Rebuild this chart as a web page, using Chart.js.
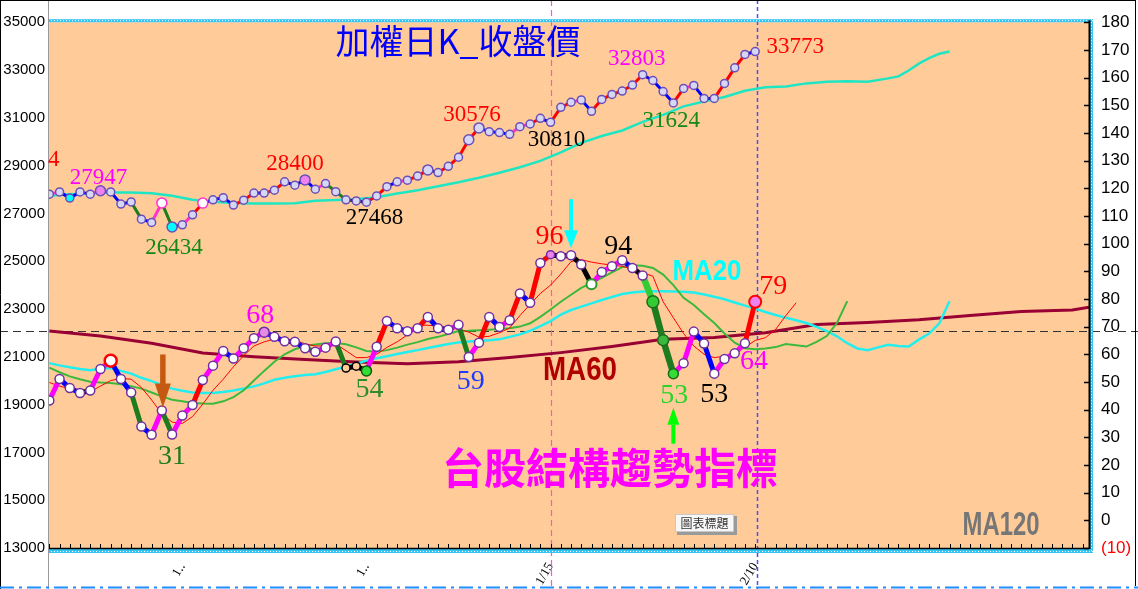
<!DOCTYPE html>
<html>
<head>
<meta charset="utf-8">
<script src="https://cdn.jsdelivr.net/npm/chart.js@4.4.1/dist/chart.umd.min.js"></script>
<style>
  html, body { margin: 0; padding: 0; background: #fff; }
  #wrap { width: 1138px; height: 589px; }
</style>
</head>
<body>
<div id="wrap"><canvas id="mycanvas" width="1138" height="589"></canvas></div>
<script>
// ---- data ----
var tickIdx  = [13, 31, 49, 69];
var tickText = ['1‥', '1‥', '1/15', '2/10'];

// weighted index, daily close (left axis)
var price = [27805, 27900, 27640, 27900, 27805, 27947, 27900, 27390, 27480, 26760,
             26620, 27440, 26434, 26520, 26940, 27430, 27570, 27660, 27350, 27555,
             27850, 27850, 27970, 28320, 28180, 28400, 28010, 28250, 27910, 27570,
             27520, 27468, 27730, 28120, 28320, 28390, 28560, 28820, 28710, 28970,
             29350, 30080, 30576, 30420, 30380, 30310, 30630, 30740, 30980, 30810,
             31440, 31650, 31750, 31270, 31770, 31980, 32120, 32370, 32803, 32560,
             32100, 31624, 32230, 32355, 31810, 31810, 32440, 33090, 33650, 33773];
// trend code per segment (R up, B down, M, G, K, L)
var priceTrend = 'MBBBMBBBGBMGBMRBBBRRBRRBBBMGGKKRRBMRRBRRRRBBBMMRBRRMBRRRRRBBBRMBBRRRB';

// price moving average (left axis), read at these positions
var priceMAIdx = [0, 2, 4, 6, 8, 10, 12, 14, 16, 18, 20, 22, 24, 26, 28, 30, 32, 34, 36, 38,
                  40, 42, 44, 46, 48, 50, 52, 54, 56, 58, 60, 62, 64, 66, 68, 70, 72, 74, 76, 78,
                  80, 82, 83, 84, 85, 86, 87, 88];
var priceMA = [27735, 27805, 27840, 27872, 27872, 27847, 27735, 27567, 27484, 27430,
               27413, 27413, 27420, 27526, 27560, 27590, 27680, 27830, 27970, 28140,
               28300, 28490, 28700, 28930, 29200, 29550, 29950, 30240, 30470, 30830,
               31120, 31480, 31680, 31870, 32130, 32280, 32310, 32440, 32510, 32534,
               32510, 32650, 32734, 32980, 33265, 33494, 33680, 33775];

// structure trend indicator (right axis)
var trendIdx = [43.3, 51.1, 47.8, 46.0, 46.9, 54.7, 57.7, 51.1, 46.2, 33.9,
                30.9, 39.7, 31, 37.9, 41.7, 50.7, 55.9, 61.2, 58.5, 62.2,
                65.8, 68, 66.3, 64.7, 64.5, 62.2, 60.9, 62.4, 64.6, 55.0,
                55.7, 54, 62.7, 72.0, 69.4, 68.3, 69.4, 73.5, 69.4, 68.9,
                70.7, 59, 64.2, 73.5, 69.9, 72.3, 82.0, 78.6, 93.0, 96,
                95.4, 95.8, 92.4, 85.3, 89.7, 91.8, 94, 91.2, 88.5, 79.0,
                65.1, 53, 56.8, 68.2, 63.9, 53, 58.3, 60.4, 64, 79];
var trendCode = 'MBBKMMBBGBMGMMRMMBMMMBBBBGMMGKKMRBBMRBBMGMRBMRBRRKKKKMMMBKLGGMMBBMMMR';

var ma5 = [49.8, 48.5, 47.5, 46.8, 46.5, 48.5, 50.5, 51.3, 51, 48,
           43.5, 38.5, 35.5, 35, 37.5, 42, 47, 51, 55.5, 59.5,
           63, 64.5, 65.5, 65.7, 65, 63.8, 63, 63, 63.7, 61.3,
           58.8, 58.8, 60, 62.5, 64.5, 67, 70.5, 70.5, 70.2, 69.6,
           69.1, 68, 66.2, 66.5, 67.8, 69.5, 74, 78, 82, 85,
           89, 93.5, 94.2, 93.3, 92.7, 92.2, 91.8, 90.8, 89.5, 88.2,
           79, 73.2, 67.5, 63, 60, 58.8, 59.3, 60.5, 62.5, 65,
           66, 69, 74, 78.6];
var ma10 = [55.2, 53.5, 52, 51, 50.1, 49.8, 49.6, 49.2, 48.5, 47.6,
            46.2, 44.8, 43.6, 43, 42.4, 42.2, 42.1, 43, 44.5, 47,
            50.5, 54, 57.3, 60, 61.8, 63, 63.5, 64, 64.1, 63.6,
            62.5, 61.2, 60.9, 61.5, 62.4, 63.5, 64.4, 65.5, 66.3, 67.3,
            68.4, 68.5, 68.7, 68.9, 69.1, 69.4, 70, 71.2, 73.5, 76.2,
            79, 81.5, 84, 85.8, 87.6, 89.6, 91.5, 92.2, 92, 91.2,
            88.8, 85, 80.4, 77.8, 74.5, 71.3, 67.5, 64.2, 62.2, 61.8,
            62.1, 62.6, 63.7, 63.3, 62.8, 64.5, 66.6, 71.4, 79.2];
var ma20 = [56.8, 56, 55.3, 54.7, 54.2, 54.8, 55, 54, 53, 51.5,
            50.3, 48.9, 47.6, 46.8, 46.2, 46, 46, 46.4, 46.9, 47.6,
            48.4, 49.5, 50.8, 51.5, 52.1, 52.5, 52.8, 53.6, 54.6, 55.6,
            56.6, 57.7, 58.6, 59.3, 60.1, 60.8, 61.5, 62.3, 63, 63.7,
            64.3, 64.6, 64.9, 65.1, 65.4, 66.3, 67.2, 68.5, 70.2, 72,
            74.3, 76, 77.2, 78.4, 79.6, 80.7, 81.8, 82.3, 82.7, 82.8,
            82.8, 82.7, 82.6, 82.3, 81.6, 80.8, 79.9, 78.7, 77.6, 76.5,
            75.3, 74.2, 73.2, 72.3, 71.3, 69.9, 68.4, 66.5, 64, 62.1,
            61.5, 62.5, 63.4, 63, 62.8, 65.3, 67.5, 71.2, 79.2];
var ma60Idx = [0, 5, 10, 15, 20, 25, 30, 35, 40, 45, 50, 55, 60, 65, 70, 75, 80, 85, 90, 95, 100, 102];
var ma60 = [68.4, 66.6, 64.0, 60.5, 59.1, 58.1, 57.2, 56.6, 57.3, 58.8, 60.6, 62.8, 65.4, 66.1, 67.8,
            70.8, 71.5, 72.5, 74.0, 75.5, 76.0, 77.2];
var refLevel = 68.5;

// ---- helpers ----
function seq(vals) { return vals.map(function(v, i) { return { x: i, y: v }; }); }
function pairs(xs, vals) { return xs.map(function(x, k) { return { x: x, y: vals[k] }; }); }

var trendColor = { R: '#FF0000', B: '#0000FF', M: '#FF00FF', G: '#1E7B1E', K: '#000000', L: '#33CC33' };
var priceColor = { R: '#FF0000', B: '#0000FF', M: '#FF33CC', G: '#1E7B1E', K: '#202020', L: '#33CC33' };

var priceMark = {
  2: { bg: '#00FFFF' }, 5: { bg: '#EE82EE', r: 5 }, 11: { bg: '#fff', bc: '#FF33CC', r: 5 },
  12: { bg: '#00FFFF', r: 5 }, 15: { bg: '#fff', bc: '#FF33CC', r: 5 }, 25: { bg: '#EE82EE', r: 5 },
  37: { r: 5 }, 41: { r: 5 }, 42: { r: 5 }
};
var trendMark = {
  6: { r: 6, bg: '#fff', bc: '#FF0000', bw: 2.5 }, 21: { r: 5, bg: '#E58AE5' },
  29: { r: 4, bg: '#FFCC99', bc: '#000' }, 30: { r: 4, bg: '#FFCC99', bc: '#000' },
  31: { r: 5, bg: '#33DD33', bc: '#0B5E0B' }, 49: { r: 4, bg: '#EE82EE' },
  53: { r: 5, bg: '#fff', bc: '#2E9B2E', bw: 2 }, 59: { r: 6, bg: '#33CC33', bc: '#1E6B1E' },
  60: { r: 5.5, bg: '#3CB83C', bc: '#1E6B1E' }, 61: { r: 5, bg: '#33DD33', bc: '#1E6B1E' },
  69: { r: 6, bg: '#EE82EE', bc: '#FF0000', bw: 2 }
};
function mk(map, i, key, def) { var m = map[i]; return (m && m[key] !== undefined) ? m[key] : def; }

// text notes attached to points: [index, color, dx, dy, text override]
var priceNotes = [[0, '#FF0000', 4.5, -36, '4'], [5, '#FF00FF', -2, -14], [12, '#178717', 2, 19],
                  [25, '#FF0000', -10, -18], [31, '#000', 8, 14], [42, '#FF0000', -7, -15],
                  [49, '#000', 6, 16], [58, '#FF00FF', -6, -17], [61, '#178717', -2, 17],
                  [69, '#FF0000', 40, -6]];
var trendNotes = [[12, '#1E7B1E', 0, 20], [21, '#FF00FF', -4, -18], [31, '#2E8B2E', 3, 17],
                  [41, '#1D3BFF', 2, 23], [49, '#FF0000', -1, -20], [56, '#000', -4, -15],
                  [61, '#2BD42B', 1, 20], [65, '#000', 0, 19], [68, '#FF00FF', 9, 17],
                  [69, '#FF0000', 18, -17]];

function line(c, x0, y0, x1, y1) { c.beginPath(); c.moveTo(x0, y0); c.lineTo(x1, y1); c.stroke(); }
function arrow(c, x, yBase, yTip, shaftW, headW, headH, color) {
  var dir = yTip > yBase ? 1 : -1;
  c.fillStyle = color;
  c.fillRect(x - shaftW / 2, Math.min(yBase, yTip - dir * headH), shaftW, Math.abs(yTip - dir * headH - yBase) + 1);
  c.beginPath();
  c.moveTo(x - headW / 2, yTip - dir * headH);
  c.lineTo(x + headW / 2, yTip - dir * headH);
  c.lineTo(x, yTip);
  c.closePath();
  c.fill();
}

var deco = {
  id: 'deco',
  beforeDraw: function(chart) {
    var c = chart.ctx, a = chart.chartArea;
    c.save();
    c.fillStyle = '#fff';
    c.fillRect(0, 0, chart.width, chart.height);
    c.fillStyle = '#FFCC99';
    c.fillRect(a.left, a.top, a.right - a.left, a.bottom - a.top);
    c.restore();
  },
  beforeDatasetsDraw: function(chart) {
    var c = chart.ctx, sx = chart.scales.x, yR = chart.scales.yR;
    c.save();
    var yy = Math.round(yR.getPixelForValue(refLevel)) + 0.5;
    c.strokeStyle = '#333'; c.lineWidth = 1; c.setLineDash([8, 5]);
    line(c, 0, yy, chart.width, yy);
    var px = Math.round(sx.getPixelForValue(49)) + 0.5;
    c.strokeStyle = '#FF55CC'; c.lineWidth = 1.2; c.setLineDash([6, 4]);
    line(c, px, 0, px, chart.height);
    px = Math.round(sx.getPixelForValue(69.2)) + 0.5;
    c.strokeStyle = '#4B4BFF'; c.lineWidth = 1.5; c.setLineDash([4, 3]);
    line(c, px, 0, px, chart.height);
    c.restore();
  },
  afterDatasetsDraw: function(chart) {
    var c = chart.ctx, a = chart.chartArea, sx = chart.scales.x, yL = chart.scales.yL, yR = chart.scales.yR;
    var W = chart.width, H = chart.height, i, p;
    c.save();
    c.setLineDash([]);
    // plot frame
    c.fillStyle = '#35C4F2';
    c.fillRect(a.left, a.top - 3, a.right - a.left + 4, 3);
    c.fillRect(a.right + 1, a.top - 3, 3, a.bottom - a.top + 8);
    c.fillRect(a.left, a.bottom + 1, a.right - a.left + 4, 4);
    c.strokeStyle = '#fff'; c.lineWidth = 1; c.setLineDash([1, 2]);
    line(c, a.left, a.top - 1.5, a.right + 4, a.top - 1.5);
    line(c, a.left, a.bottom + 3.5, a.right + 4, a.bottom + 3.5);
    line(c, a.right + 2.5, a.top - 3, a.right + 2.5, a.bottom + 5);
    c.setLineDash([]);
    c.strokeStyle = '#000'; c.lineWidth = 1.5;
    line(c, a.left, a.bottom + 0.5, a.right, a.bottom + 0.5);
    c.lineWidth = 1;
    for (i = 0; i <= 101; i++) {
      p = Math.round(sx.getPixelForValue(i)) + 0.5;
      line(c, p, a.bottom - 4, p, a.bottom);
    }
    c.lineWidth = 2;
    line(c, a.right + 0.5, a.top - 2, a.right + 0.5, a.bottom + 1);
    c.lineWidth = 1.5;
    for (i = -10; i <= 180; i += 10) {
      p = Math.round(yR.getPixelForValue(i)) + 0.5;
      line(c, a.right - 5, p, a.right, p);
    }
    c.strokeStyle = '#999'; c.lineWidth = 1;
    line(c, a.left + 0.5, 0, a.left + 0.5, H);
    c.strokeStyle = '#000';
    line(c, 0, 0.5, W - 2, 0.5);
    line(c, 0.5, 0, 0.5, H);
    line(c, W - 2.5, 0, W - 2.5, H - 3);
    c.strokeStyle = '#1E90FF'; c.lineWidth = 2; c.setLineDash([14, 5, 3, 5]);
    line(c, 0, H - 1.5, W, H - 1.5);
    c.setLineDash([]);

    // point notes
    c.save();
    c.beginPath(); c.rect(a.left, 0, a.right - a.left, H); c.clip();
    c.textAlign = 'center'; c.textBaseline = 'alphabetic';
    c.font = '23px "Liberation Serif", serif';
    priceNotes.forEach(function(n) {
      var x = sx.getPixelForValue(n[0]) + n[2], y = yL.getPixelForValue(price[n[0]]) + n[3];
      c.fillStyle = n[1];
      c.fillText(n[4] || String(price[n[0]]), x, y + 7.6);
    });
    c.font = '28px "Liberation Serif", serif';
    trendNotes.forEach(function(n) {
      var x = sx.getPixelForValue(n[0]) + n[2], y = yR.getPixelForValue(trendIdx[n[0]]) + n[3];
      c.fillStyle = n[1];
      c.fillText(String(Math.round(trendIdx[n[0]])), x, y + 9.2);
    });
    c.restore();

    // arrows pointing at turning points
    var ax = sx.getPixelForValue(51), ay = yR.getPixelForValue(trendIdx[51]);
    arrow(c, ax, ay - 56, ay - 7, 4, 14, 18, '#00FFFF');
    ax = sx.getPixelForValue(11) + 1; ay = yR.getPixelForValue(trendIdx[11]);
    arrow(c, ax, ay - 56, ay - 3, 5.5, 16, 24, '#C65911');
    ax = sx.getPixelForValue(61); ay = yR.getPixelForValue(trendIdx[61]);
    arrow(c, ax, ay + 69, ay + 34, 4, 12, 17, '#00FF00');

    // titles and series names
    c.textAlign = 'center'; c.textBaseline = 'middle';
    c.fillStyle = '#0000FF';
    c.font = '34px "Noto Sans CJK TC", sans-serif';
    c.fillText('加權日K_收盤價', 458, 41, 252);
    c.fillStyle = '#FF00FF';
    c.font = 'bold 42px "Noto Sans CJK TC", sans-serif';
    c.fillText('台股結構趨勢指標', 610, 468, 342);
    c.textBaseline = 'alphabetic';
    c.font = 'bold 30px "Liberation Sans", sans-serif';
    c.fillStyle = '#00FFFF';
    c.fillText('MA20', 707, 280, 69);
    c.font = 'bold 34px "Liberation Sans", sans-serif';
    c.fillStyle = '#B00000';
    c.fillText('MA60', 580, 380, 74);
    c.fillStyle = '#767676';
    c.fillText('MA120', 1001, 535, 77);

    // placeholder chart-title box
    c.fillStyle = '#9A9A9A';
    c.fillRect(677, 516, 60, 19);
    c.fillStyle = '#F7F7F7';
    c.fillRect(675, 514, 59, 18);
    c.strokeStyle = '#C8C8C8'; c.lineWidth = 1;
    c.strokeRect(675.5, 514.5, 58, 17);
    c.fillStyle = '#333';
    c.font = '12px "Noto Sans CJK TC", sans-serif';
    c.textBaseline = 'middle';
    c.fillText('圖表標題', 704.5, 523.5);
    c.restore();
  }
};

var ctx = document.getElementById('mycanvas');
var chart = new Chart(ctx, {
  type: 'line',
  data: {
    datasets: [
      {
        label: 'trend', data: seq(trendIdx), yAxisID: 'yR', order: 1, clip: 0,
        borderWidth: 5, borderColor: '#FF00FF', borderCapStyle: 'round', borderJoinStyle: 'round',
        segment: {
          borderColor: function(s) { return trendColor[trendCode[s.p0DataIndex]]; },
          borderWidth: function(s) { var k = trendCode[s.p0DataIndex]; return (s.p0DataIndex >= 58 && (k === 'G' || k === 'L')) ? 6.5 : 5; }
        },
        pointRadius: function(p) { return mk(trendMark, p.dataIndex, 'r', 4.5); },
        pointBackgroundColor: function(p) { return mk(trendMark, p.dataIndex, 'bg', '#fff'); },
        pointBorderColor: function(p) { return mk(trendMark, p.dataIndex, 'bc', '#7030A0'); },
        pointBorderWidth: function(p) { return mk(trendMark, p.dataIndex, 'bw', 1.5); }
      },
      {
        label: 'price', data: seq(price), yAxisID: 'yL', order: 2, clip: 0,
        borderWidth: 3, borderColor: '#FF0000', borderCapStyle: 'round', borderJoinStyle: 'round',
        segment: { borderColor: function(s) { return priceColor[priceTrend[s.p0DataIndex]]; } },
        pointRadius: function(p) { return mk(priceMark, p.dataIndex, 'r', 4); },
        pointBackgroundColor: function(p) { return mk(priceMark, p.dataIndex, 'bg', '#D6D6F5'); },
        pointBorderColor: function(p) { return mk(priceMark, p.dataIndex, 'bc', '#6B4FB8'); },
        pointBorderWidth: 1.5
      },
      { label: 'priceMA', data: pairs(priceMAIdx, priceMA), yAxisID: 'yL', order: 6, clip: 0,
        borderColor: '#1FE6C2', borderWidth: 2.5, pointRadius: 0 },
      { label: 'MA5', data: seq(ma5), yAxisID: 'yR', order: 7, clip: 0,
        borderColor: '#FF0000', borderWidth: 1, pointRadius: 0 },
      { label: 'MA10', data: seq(ma10), yAxisID: 'yR', order: 8, clip: 0,
        borderColor: '#3CB83C', borderWidth: 2, pointRadius: 0 },
      { label: 'MA20', data: seq(ma20), yAxisID: 'yR', order: 9, clip: 0,
        borderColor: '#22EEEE', borderWidth: 2.5, pointRadius: 0 },
      { label: 'MA60', data: pairs(ma60Idx, ma60), yAxisID: 'yR', order: 10, clip: 0,
        borderColor: '#990033', borderWidth: 3, pointRadius: 0 }
    ]
  },
  options: {
    responsive: false,
    animation: false,
    devicePixelRatio: 1,
    layout: { padding: { top: 20, left: 0, right: 0, bottom: 0 } },
    plugins: { legend: { display: false }, tooltip: { enabled: false } },
    scales: {
      x: {
        type: 'linear', min: -0.13, max: 101.63,
        grid: { display: false }, border: { display: false },
        afterBuildTicks: function(s) { s.ticks = tickIdx.map(function(v) { return { value: v }; }); },
        afterFit: function(s) { s.height = 41; },
        ticks: {
          autoSkip: false, minRotation: 60, maxRotation: 60, padding: 4, color: '#000',
          font: { family: '"Liberation Serif", serif', size: 13 },
          callback: function(v) { var k = tickIdx.indexOf(v); return k < 0 ? '' : tickText[k]; }
        }
      },
      yL: {
        position: 'left', min: 13000, max: 35000,
        grid: { display: false, drawTicks: false }, border: { display: false },
        afterFit: function(s) { s.width = 48; },
        ticks: { stepSize: 2000, padding: 3, color: '#000',
                 font: { family: '"Liberation Sans Narrow", "Liberation Sans", sans-serif', size: 15 },
                 callback: function(v) { return String(v); } }
      },
      yR: {
        position: 'right', min: -10, max: 180,
        grid: { display: false, drawTicks: false }, border: { display: false },
        afterFit: function(s) { s.width = 49; },
        ticks: {
          stepSize: 10, padding: 12,
          color: function(t) { return t.tick && t.tick.value < 0 ? '#FF0000' : '#000'; },
          font: { family: '"Liberation Sans Narrow", "Liberation Sans", sans-serif', size: 17 },
          callback: function(v) { return v < 0 ? '(' + (-v) + ')' : String(v); }
        }
      }
    }
  },
  plugins: [deco]
});
</script>
</body>
</html>
